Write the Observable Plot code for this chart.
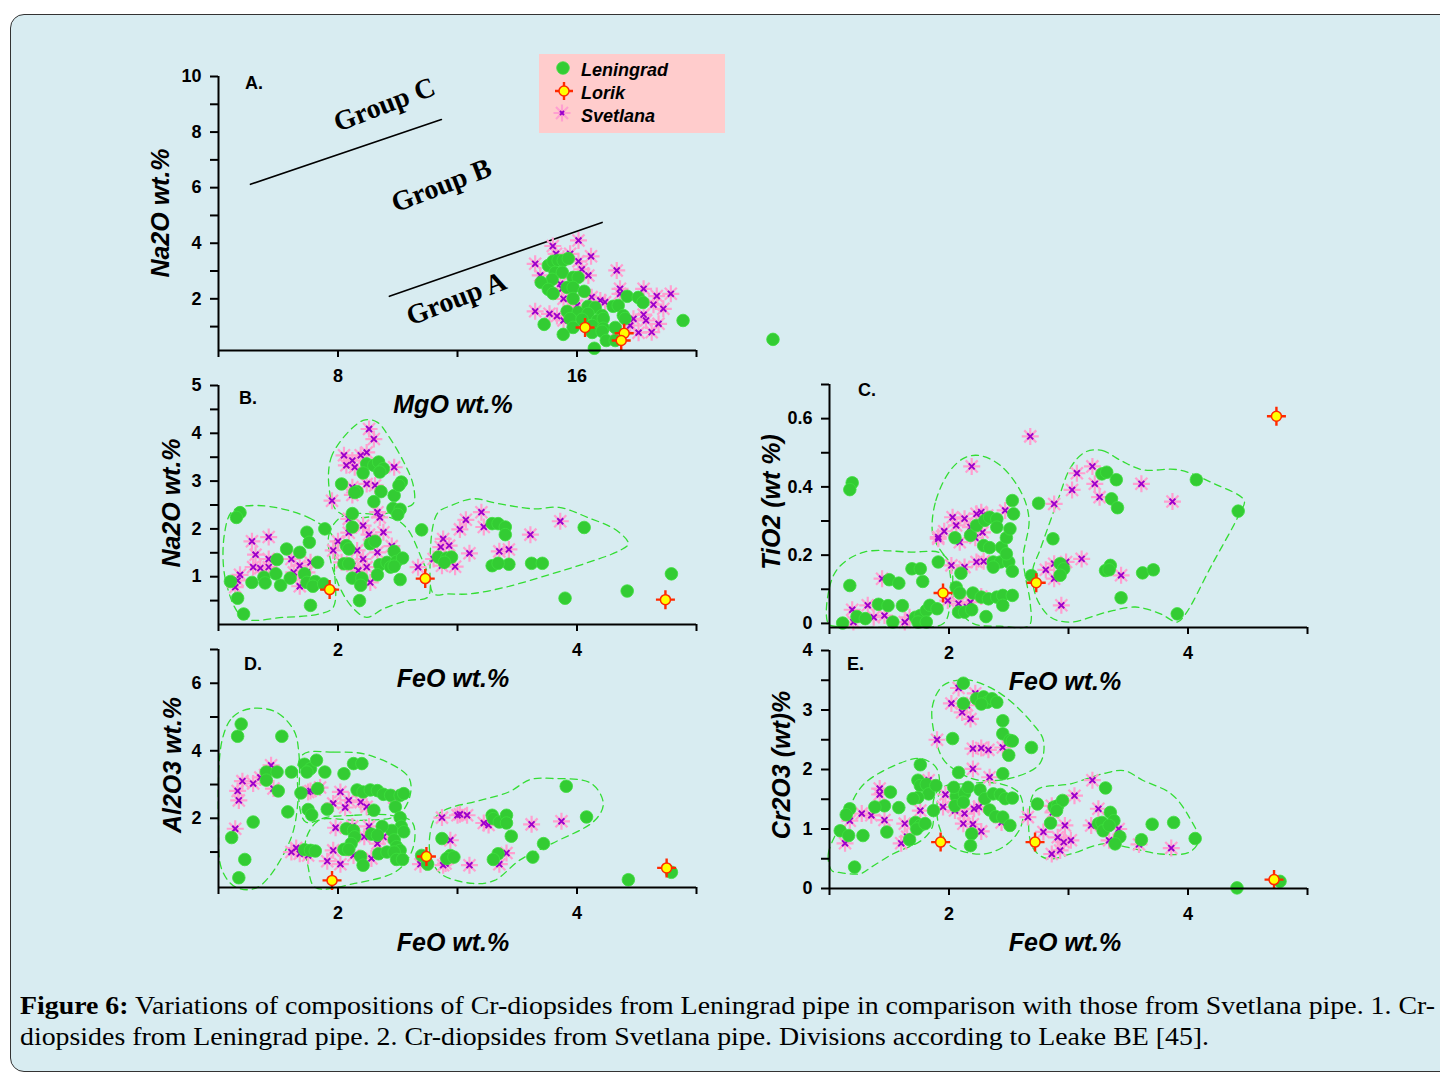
<!DOCTYPE html>
<html><head><meta charset="utf-8">
<script src="https://cdn.jsdelivr.net/npm/d3@7"></script>
<script src="https://cdn.jsdelivr.net/npm/@observablehq/plot@0.6"></script>
<style>
body{margin:0;background:#fff;width:1440px;height:1074px;overflow:hidden;position:relative;font-family:"Liberation Sans",Arial,sans-serif;}
#box{position:absolute;left:10px;top:14px;width:1460px;height:1056px;background:#d8ecf1;border:1.5px solid #333;border-radius:14px;}
.pl{position:absolute;}
.pl svg{display:block;}
.lab{position:absolute;font-weight:bold;font-style:italic;font-size:25px;white-space:nowrap;transform:translate(-50%,-50%);line-height:1;}
.rot{transform:translate(-50%,-50%) rotate(-90deg);}
.let{position:absolute;font-weight:bold;font-size:18px;line-height:1;}
#legend{position:absolute;left:539px;top:54px;width:186px;height:79px;background:#ffcccc;}
.li{position:absolute;left:42px;font-weight:bold;font-style:italic;font-size:18px;line-height:1;}
#legend svg{position:absolute;left:0;top:0;}
#cap{position:absolute;left:20px;top:990px;font-family:"Liberation Serif",serif;font-size:26px;line-height:31px;white-space:nowrap;transform-origin:0 0;}
</style></head>
<body>
<div id="box"></div>
<div id="root"></div>
<script>
// ---------------- DATA ----------------
// Panel A: MgO (x) vs Na2O (y)
const leningradA = [[15.04,3.20],[15.20,3.35],[15.37,3.38],[15.54,3.38],[15.71,3.45],[15.27,2.95],[15.51,2.95],[15.87,2.77],[16.04,2.77],[15.17,2.70],[14.80,2.59],[15.04,2.34],[15.20,2.19],[15.67,2.41],[15.87,2.41],[16.24,2.27],[15.87,2.01],[17.68,2.09],[18.05,2.05],[18.21,1.87],[16.37,1.73],[16.61,1.69],[17.21,1.73],[17.38,1.76],[15.67,1.55],[16.04,1.51],[16.37,1.47],[16.84,1.40],[17.55,1.40],[17.61,1.29],[15.77,1.29],[16.17,1.26],[16.68,1.22],[16.88,1.29],[14.90,1.08],[15.87,0.97],[16.51,1.04],[16.88,0.94],[17.28,0.97],[15.54,0.72],[16.51,0.79],[16.84,0.83],[16.98,0.50],[17.28,0.50],[16.58,0.22],[19.55,1.22],[22.56,0.54]];
const lorikA = [[16.27,0.97],[17.58,0.76],[17.48,0.50]];
const svetlanaA = [[14.60,3.26],[15.19,3.90],[16.05,4.10],[16.47,3.53],[16.05,3.35],[16.16,3.06],[16.38,2.84],[17.33,3.02],[14.77,2.84],[14.60,1.55],[15.08,1.46],[15.55,1.22],[15.33,1.38],[15.50,2.36],[16.49,2.06],[16.78,1.94],[17.44,2.18],[18.23,2.36],[18.67,2.10],[19.14,2.18],[18.56,1.79],[18.89,1.64],[18.23,1.43],[18.31,1.22],[18.73,1.10],[18.50,0.80],[18.06,0.78],[17.78,1.04],[17.89,1.28],[16.00,1.76],[15.88,1.94],[16.94,1.88],[15.55,2.00],[17.44,2.36],[15.77,3.62],[15.30,3.62],[15.55,3.44],[15.44,2.54],[17.33,0.86],[16.78,1.16]];
const groupLineC = [[5.07,6.12],[11.46,8.45]];
const groupLineA = [[9.72,2.09],[16.84,4.75]];
const groupLabels = [{x:9.55,y:8.99,t:"Group C"},{x:11.46,y:6.08,t:"Group B"},{x:11.96,y:2.01,t:"Group A"}];

// Panel B: FeO vs Na2O
const leningradB = [[1.18,2.34],[1.15,2.24],[1.10,0.90],[1.16,0.55],[1.21,0.22],[1.28,0.88],[1.38,0.99],[1.39,0.87],[1.48,1.06],[1.49,1.36],[1.52,0.82],[1.57,1.58],[1.68,1.51],[1.60,0.97],[1.74,1.93],[1.76,1.72],[1.72,1.06],[1.74,0.88],[1.81,0.90],[1.79,0.80],[1.83,1.30],[1.77,0.40],[1.89,2.00],[1.88,0.85],[2.03,2.94],[2.16,2.78],[2.14,2.76],[2.24,3.36],[2.30,3.33],[2.34,3.40],[2.38,3.26],[2.35,3.19],[2.21,3.17],[2.36,2.78],[2.47,2.70],[2.30,2.57],[2.53,2.98],[2.51,2.91],[2.46,2.43],[2.52,2.41],[2.50,2.30],[2.12,2.32],[2.12,2.04],[2.07,1.65],[2.09,1.58],[2.27,1.69],[2.31,1.74],[2.47,1.53],[2.05,1.27],[2.09,1.27],[2.12,0.97],[2.20,0.97],[2.19,0.82],[2.18,0.50],[2.35,1.25],[2.41,1.30],[2.44,1.20],[2.49,1.32],[2.54,1.39],[2.47,1.22],[2.33,1.04],[2.52,0.94],[2.70,1.98],[2.84,1.41],[2.91,1.39],[2.95,1.41],[2.89,1.30],[3.29,2.11],[3.34,2.11],[3.40,2.04],[3.40,1.88],[3.43,1.26],[3.29,1.23],[3.34,1.28],[3.62,1.28],[3.71,1.28],[4.06,2.03],[3.90,0.55],[4.42,0.70],[4.79,1.06]];
const lorikB = [[1.93,0.73],[2.73,0.96],[4.74,0.52]];
const svetlanaB = [[2.26,4.09],[2.30,3.88],[2.05,3.54],[2.12,3.43],[2.19,3.54],[2.24,3.60],[2.14,3.29],[2.07,3.33],[2.47,3.29],[2.24,2.94],[2.31,2.91],[2.12,2.87],[2.12,2.71],[1.95,2.59],[2.33,2.35],[2.35,2.24],[2.09,2.21],[2.21,2.07],[2.26,1.88],[2.38,1.93],[2.09,1.92],[2.00,1.74],[1.96,1.55],[2.16,1.55],[2.33,1.51],[2.45,1.64],[2.03,1.30],[2.12,1.23],[2.21,1.37],[2.24,1.20],[2.17,1.13],[2.27,0.88],[2.67,1.20],[1.28,1.74],[1.42,1.83],[1.31,1.46],[1.35,1.18],[1.29,1.20],[1.18,1.04],[1.16,0.92],[1.14,0.78],[1.42,1.37],[1.42,1.20],[1.61,1.37],[1.68,1.23],[1.63,1.09],[1.77,1.30],[1.70,1.03],[1.68,0.80],[1.74,1.09],[2.88,1.79],[2.86,1.62],[2.93,1.65],[2.87,1.23],[2.98,1.21],[2.80,1.37],[3.02,1.99],[3.07,2.19],[3.20,2.35],[3.22,2.04],[3.10,1.49],[3.35,1.53],[3.43,1.57],[3.61,1.88],[3.86,2.16]];
const contB1 = [[1.33,2.49],[1.75,2.24],[1.96,1.83],[1.97,1.20],[1.96,0.36],[1.84,0.22],[1.54,0.15],[1.21,0.14],[1.06,0.92],[1.05,1.90],[1.12,2.38]];
const contB2 = [[2.21,4.27],[1.95,3.54],[1.93,2.77],[1.99,2.38],[2.13,2.24],[2.33,2.28],[2.52,2.42],[2.63,2.53],[2.63,2.91],[2.55,3.40],[2.41,3.99],[2.33,4.23]];
const contB3 = [[2.05,2.28],[1.93,1.93],[1.93,1.44],[2.02,0.75],[2.13,0.33],[2.24,0.15],[2.38,0.33],[2.58,0.50],[2.75,0.57],[2.77,0.88],[2.69,1.44],[2.58,2.00],[2.47,2.21]];
const contB4 = [[2.80,0.64],[2.77,1.20],[2.83,2.32],[2.95,2.49],[3.13,2.63],[3.34,2.53],[3.64,2.42],[3.85,2.45],[4.09,2.24],[4.33,1.97],[4.43,1.69],[4.36,1.55],[4.06,1.27],[3.79,1.06],[3.40,0.78],[3.10,0.64],[2.92,0.64]];

// Panel C: FeO vs TiO2
const leningradC = [[1.19,0.412],[1.17,0.392],[1.17,0.111],[1.11,0.001],[1.23,0.020],[1.30,0.014],[1.41,0.056],[1.49,0.052],[1.61,0.052],[1.50,0.128],[1.58,0.118],[1.69,0.160],[1.76,0.160],[1.78,0.123],[1.53,0.004],[1.91,0.180],[1.72,0.018],[1.76,0.023],[1.81,0.038],[1.84,0.053],[1.90,0.043],[1.74,0.004],[1.81,0.004],[2.06,0.106],[2.09,0.089],[2.20,0.089],[2.27,0.077],[2.33,0.072],[2.40,0.077],[2.45,0.082],[2.53,0.082],[2.08,0.033],[2.13,0.033],[2.19,0.040],[2.31,0.020],[2.45,0.053],[2.10,0.147],[2.37,0.180],[2.43,0.180],[2.50,0.180],[2.53,0.153],[2.37,0.165],[2.05,0.251],[2.18,0.258],[2.23,0.287],[2.30,0.302],[2.34,0.311],[2.40,0.306],[2.29,0.228],[2.34,0.222],[2.44,0.223],[2.48,0.251],[2.51,0.277],[2.53,0.360],[2.54,0.321],[2.40,0.282],[2.48,0.204],[2.75,0.352],[2.87,0.248],[2.93,0.175],[2.96,0.160],[2.93,0.141],[2.69,0.140],[3.28,0.438],[3.32,0.443],[3.40,0.421],[3.36,0.365],[3.41,0.339],[3.31,0.155],[3.35,0.170],[3.34,0.157],[3.44,0.075],[3.62,0.148],[3.71,0.157],[4.07,0.421],[3.91,0.028],[4.42,0.329]];
const lorikC = [[1.95,0.089],[2.73,0.119],[4.74,0.607]];
const svetlanaC = [[2.19,0.460],[2.47,0.331],[2.03,0.311],[2.13,0.307],[2.23,0.321],[2.27,0.326],[2.32,0.316],[2.06,0.287],[2.18,0.282],[1.96,0.270],[1.91,0.248],[2.09,0.238],[2.22,0.251],[2.02,0.170],[2.13,0.165],[2.23,0.180],[2.29,0.182],[1.44,0.131],[1.19,0.040],[1.32,0.053],[1.46,0.023],[1.37,0.018],[1.20,0.004],[1.63,0.004],[1.67,0.018],[1.99,0.067],[2.08,0.058],[2.18,0.062],[2.27,0.079],[2.15,0.048],[2.88,0.350],[2.94,0.053],[3.03,0.391],[3.07,0.440],[3.20,0.460],[3.22,0.409],[3.26,0.370],[3.61,0.409],[3.87,0.357],[2.81,0.157],[2.88,0.175],[2.98,0.180],[3.11,0.189],[2.88,0.131],[3.44,0.141],[2.68,0.548],[2.28,0.267],[1.91,0.253]];
const contC1 = [[0.99,0.0],[1.00,0.106],[1.08,0.165],[1.29,0.209],[1.68,0.209],[1.93,0.206],[2.02,0.165],[2.01,0.058],[1.95,-0.001],[1.53,-0.010],[1.08,-0.010]];
const contC2 = [[1.86,0.272],[1.89,0.36],[2.01,0.448],[2.13,0.485],[2.25,0.492],[2.43,0.463],[2.61,0.38],[2.67,0.302],[2.62,0.194],[2.64,0.136],[2.68,0.058],[2.67,-0.006],[2.43,-0.008],[2.2,0.0],[2.05,0.06],[1.99,0.18],[1.9,0.23]];
const contC3 = [[3.14,0.502],[3.28,0.507],[3.44,0.477],[3.62,0.45],[3.92,0.45],[4.22,0.409],[4.47,0.36],[4.43,0.321],[4.19,0.165],[3.98,0.028],[3.91,0.004],[3.77,0.028],[3.56,0.048],[3.32,0.033],[3.02,0.004],[2.85,0.018],[2.73,0.077],[2.70,0.155],[2.76,0.214],[2.91,0.36],[3.02,0.458]];

// Panel D: FeO vs Al2O3
const leningradD = [[1.19,4.79],[1.16,4.43],[1.53,4.43],[1.40,3.37],[1.49,3.37],[1.40,3.13],[1.61,3.37],[1.50,2.81],[1.58,2.19],[1.29,1.89],[1.11,1.43],[1.22,0.78],[1.17,0.24],[1.72,3.60],[1.77,3.47],[1.82,3.72],[1.74,3.37],[1.89,3.37],[2.05,3.32],[2.13,3.62],[2.20,3.62],[1.69,2.75],[1.83,2.88],[1.75,2.26],[1.78,2.10],[1.91,2.27],[2.16,2.84],[2.21,2.78],[2.27,2.84],[2.33,2.82],[2.38,2.71],[2.44,2.68],[2.52,2.68],[2.55,2.73],[2.30,2.24],[2.48,2.34],[2.52,2.02],[2.53,1.76],[2.45,1.64],[2.37,1.76],[2.55,1.60],[2.07,1.69],[2.13,1.64],[2.14,1.45],[2.11,1.25],[2.05,1.08],[2.09,1.08],[2.28,1.53],[2.33,1.50],[2.47,1.36],[2.49,1.16],[2.52,1.05],[2.34,0.95],[2.41,1.00],[2.47,1.00],[2.49,0.78],[2.54,0.78],[2.19,0.87],[2.21,0.61],[1.72,1.07],[1.77,1.05],[1.81,1.03],[2.70,0.90],[2.75,0.64],[2.87,1.40],[2.94,0.90],[2.91,0.81],[2.97,0.85],[3.29,2.09],[3.30,1.99],[3.35,1.89],[3.41,2.09],[3.41,1.86],[3.45,1.47],[3.34,0.95],[3.30,0.78],[3.63,0.85],[3.72,1.25],[3.91,2.95],[4.08,2.04],[4.43,0.18],[4.79,0.40]];
const lorikD = [[1.95,0.16],[2.74,0.87],[4.75,0.53]];
const svetlanaD = [[1.20,3.10],[1.16,2.81],[1.17,2.53],[1.35,3.21],[1.44,3.57],[1.46,2.88],[1.29,3.03],[1.39,3.28],[1.14,1.69],[1.75,2.78],[1.85,2.91],[1.77,2.81],[2.02,2.78],[1.96,2.44],[2.06,2.32],[2.09,2.53],[2.19,2.48],[2.24,2.34],[2.47,2.61],[1.98,1.72],[2.12,1.76],[2.26,1.76],[2.22,1.45],[2.38,1.45],[2.33,1.25],[1.61,1.00],[1.68,0.95],[1.75,0.90],[1.65,1.12],[1.91,0.73],[2.02,0.64],[2.13,0.90],[2.28,0.81],[1.96,1.05],[2.69,0.64],[2.90,0.66],[2.87,2.02],[3.00,2.09],[2.94,1.35],[3.08,2.09],[3.26,1.80],[3.41,0.97],[3.62,1.82],[3.87,1.91],[3.10,0.61],[3.02,2.12],[2.88,0.61],[3.22,1.86],[3.35,0.64]];
const contD1 = [[1.03,4.31],[1.12,5.00],[1.27,5.25],[1.48,5.15],[1.63,4.61],[1.67,4.02],[1.67,2.73],[1.60,1.35],[1.33,-0.04],[1.15,-0.05],[1.03,0.46],[1.00,1.84]];
const contD2 = [[1.70,3.87],[1.96,3.96],[2.26,3.87],[2.59,3.22],[2.60,2.63],[2.50,2.09],[2.20,1.94],[1.90,1.99],[1.73,1.89],[1.67,2.63]];
const contD3 = [[1.84,1.94],[2.14,2.09],[2.44,2.09],[2.62,1.89],[2.63,1.15],[2.50,0.46],[2.14,0.07],[1.81,-0.05],[1.75,0.56],[1.73,1.35]];
const contD4 = [[2.80,1.94],[2.89,2.24],[3.19,2.53],[3.43,2.78],[3.61,3.15],[3.79,3.18],[4.12,3.03],[4.22,2.44],[4.15,1.94],[3.79,1.25],[3.52,0.76],[3.31,0.16],[3.13,0.07],[2.86,0.36],[2.77,0.95]];

// Panel E: FeO vs Cr2O3
const leningradE = [[2.12,3.45],[2.12,3.11],[2.23,3.19],[2.29,3.22],[2.32,3.13],[2.36,3.19],[2.40,3.13],[2.27,3.10],[2.45,2.82],[2.45,2.60],[2.51,2.49],[2.53,2.48],[2.50,2.24],[2.69,2.37],[2.45,1.93],[2.03,2.52],[2.08,1.95],[1.76,2.08],[1.74,1.82],[1.76,1.73],[1.81,1.75],[1.83,1.59],[1.74,1.53],[1.70,1.51],[1.89,1.73],[1.51,1.62],[1.58,1.36],[1.46,1.39],[1.38,1.37],[1.17,1.34],[1.14,1.24],[1.09,0.97],[1.16,0.89],[1.28,0.89],[1.48,0.95],[1.21,0.36],[1.72,1.11],[1.76,1.06],[1.73,1.00],[1.80,1.09],[1.67,0.82],[1.87,1.31],[2.06,1.55],[2.13,1.60],[2.16,1.70],[2.26,1.66],[2.30,1.51],[2.37,1.59],[2.43,1.58],[2.47,1.51],[2.53,1.52],[2.05,1.39],[2.12,1.45],[2.34,1.32],[2.39,1.21],[2.45,1.20],[2.51,1.06],[2.19,0.92],[2.18,0.72],[2.04,1.70],[2.74,1.42],[2.85,1.10],[2.88,1.37],[2.91,1.39],[2.95,1.48],[2.90,1.31],[3.31,1.69],[3.25,1.09],[3.28,1.11],[3.29,0.97],[3.35,1.28],[3.38,1.14],[3.34,1.06],[3.43,0.87],[3.39,0.75],[3.61,0.82],[3.70,1.08],[3.88,1.11],[4.06,0.84],[4.41,0.01],[4.77,0.12]];
const lorikE = [[1.93,0.78],[2.72,0.78],[4.72,0.15]];
const svetlanaE = [[2.08,3.37],[2.02,3.11],[2.22,3.28],[2.11,2.96],[2.18,2.85],[2.15,3.08],[1.90,2.50],[2.20,2.35],[2.27,2.36],[2.33,2.33],[2.45,2.37],[2.20,2.01],[2.34,1.87],[1.42,1.68],[1.42,1.58],[1.46,1.15],[1.27,1.26],[1.35,1.23],[1.17,1.14],[1.13,0.76],[1.63,1.09],[1.60,0.76],[1.65,0.87],[1.76,1.31],[1.83,1.82],[1.97,1.58],[1.95,1.37],[2.05,1.31],[2.13,1.26],[2.21,1.34],[2.25,1.37],[2.12,1.09],[2.20,1.08],[2.27,0.96],[2.44,1.11],[2.66,1.20],[2.79,0.95],[2.86,1.39],[2.87,1.28],[2.96,0.78],[2.93,0.64],[2.86,0.58],[3.20,1.82],[3.25,1.34],[3.05,1.56],[3.19,1.06],[3.34,0.81],[3.42,1.00],[3.59,0.74],[3.86,0.68],[2.97,1.06],[3.02,0.81],[2.91,0.86]];
const contE1 = [[1.02,0.30],[0.99,0.58],[1.13,1.20],[1.29,1.76],[1.65,2.15],[1.77,2.18],[1.89,2.04],[1.92,1.76],[1.87,1.48],[1.86,1.03],[1.77,0.81],[1.53,0.58],[1.35,0.36],[1.26,0.25],[1.08,0.27]];
const contE2 = [[1.89,2.49],[1.86,3.05],[1.95,3.41],[2.13,3.51],[2.31,3.41],[2.49,3.19],[2.70,2.77],[2.79,2.49],[2.76,2.10],[2.55,1.87],[2.25,1.82],[2.10,1.93],[1.96,2.15]];
const contE3 = [[1.95,1.70],[2.13,1.76],[2.43,1.76],[2.59,1.59],[2.61,1.09],[2.49,0.75],[2.28,0.58],[2.01,0.72],[1.92,1.03],[1.90,1.42]];
const contE4 = [[2.70,0.69],[2.67,1.26],[2.73,1.65],[3.02,1.76],[3.29,1.93],[3.47,1.98],[3.62,1.82],[3.86,1.59],[4.01,1.20],[4.09,0.81],[4.01,0.61],[3.77,0.58],[3.50,0.69],[3.29,0.75],[3.02,0.58],[2.82,0.50]];

// Ticks and tick labels
const ticksA_x = [4,8,12,16,20], labelsA_x = [8,16];
const ticksA_y = [1,2,3,4,5,6,7,8,9,10], labelsA_y = [2,4,6,8,10];
const ticksFeO = [1,2,3,4,5], labelsFeO = [2,4];
const ticksB_y = [0.5,1,1.5,2,2.5,3,3.5,4,4.5,5], labelsB_y = [1,2,3,4,5];
const ticksC_y = [0,0.1,0.2,0.3,0.4,0.5,0.6,0.7], labelsC_y = [0,0.2,0.4,0.6];
const ticksD_y = [1,2,3,4,5,6,7], labelsD_y = [2,4,6];
const ticksE_y = [0,0.5,1,1.5,2,2.5,3,3.5,4], labelsE_y = [0,1,2,3,4];

// ---------------- DRAWING ----------------
const asterisk = {draw(ctx, size){const r=Math.sqrt(size/Math.PI);for(let i=0;i<4;i++){const a=i*Math.PI/4,dx=r*Math.cos(a),dy=r*Math.sin(a);ctx.moveTo(-dx,-dy);ctx.lineTo(dx,dy);}}};
const cross = {draw(ctx, size){const r=Math.sqrt(size/Math.PI);ctx.moveTo(-r,0);ctx.lineTo(r,0);ctx.moveTo(0,-r);ctx.lineTo(0,r);}};
const X = d=>d[0], Y = d=>d[1];
const FONT = "'Liberation Sans', Arial, sans-serif";

function pointMarks(len, lor, sv){
  return [
    Plot.dot(sv, {x:X, y:Y, symbol: asterisk, r:8.5, stroke:"#ff9fd0", strokeWidth:2.2}),
    Plot.dot(sv, {x:X, y:Y, symbol: "times", r:2.8, stroke:"#9b00cc", strokeWidth:1.9}),
    Plot.dot(len, {x:X, y:Y, r:6.3, fill:"#33cc33", stroke:"#3ee03e", strokeWidth:0.8}),
    Plot.dot(lor, {x:X, y:Y, symbol: cross, r:9.5, stroke:"#ff2a00", strokeWidth:2.4}),
    Plot.dot(lor, {x:X, y:Y, r:5, fill:"#ffff00", stroke:"#ff2a00", strokeWidth:1.5})
  ];
}
function axes(xd, yd, xt, xl, yt, yl){
  return [
    Plot.ruleX([xd[0]], {stroke:"black", strokeWidth:2}),
    Plot.ruleY([yd[0]], {stroke:"black", strokeWidth:2}),
    Plot.axisX({ticks: xt, tickFormat: () => "", tickSize:7, stroke:"black", strokeWidth:2, label:null}),
    Plot.axisY({ticks: yt, tickFormat: () => "", tickSize:8, stroke:"black", strokeWidth:2, label:null}),
    Plot.text(xl, {x: d=>d, frameAnchor:"bottom", dy:31, text: d=>String(d), fontSize:18, fontWeight:"bold", fontFamily:FONT, fill:"black"}),
    Plot.text(yl, {y: d=>d, frameAnchor:"left", dx:-17, textAnchor:"end", text: d=>String(d), fontSize:18, fontWeight:"bold", fontFamily:FONT, fill:"black"})
  ];
}
function contourRows(list){ return list.flatMap((c,i)=>c.map(([x,y])=>({x,y,id:i}))); }
function contourMark(list){
  return Plot.line(contourRows(list), {x:"x", y:"y", z:"id", curve:"catmull-rom-closed", stroke:"#33dd33", strokeWidth:1.3, strokeDasharray:"7,5"});
}
const baseStyle = {background:"transparent", overflow:"visible", maxWidth:"none", fontFamily:FONT, fontWeight:"bold", fontSize:"18px", color:"black"};

function place(svg, left, top){
  const d = document.createElement("div"); d.className="pl"; d.style.left=left+"px"; d.style.top=top+"px";
  d.appendChild(svg); document.getElementById("root").appendChild(d);
}

// Panel A
const xdA=[4,20], ydA=[0.14,10];
place(Plot.plot({
  width:680, height:340, marginLeft:78, marginRight:124, marginTop:26, marginBottom:40,
  x:{domain:xdA, axis:null}, y:{domain:ydA, axis:null}, style:baseStyle,
  marks:[
    Plot.line(groupLineC, {x:X, y:Y, stroke:"black", strokeWidth:1.6}),
    Plot.line(groupLineA, {x:X, y:Y, stroke:"black", strokeWidth:1.6}),
    Plot.text(groupLabels, {x:"x", y:"y", text:"t", rotate:-21, fontSize:28, fontFamily:"'Liberation Serif', serif", fontWeight:"bold", fill:"black"}),
    ...pointMarks(leningradA, lorikA, svetlanaA),
    ...axes(xdA, ydA, ticksA_x, labelsA_x, ticksA_y, labelsA_y)
  ]
}), 140, 50);

// Panel B
const xdF=[1,5], ydB=[0,5];
place(Plot.plot({
  width:600, height:300, marginLeft:78, marginRight:44, marginTop:25, marginBottom:36,
  x:{domain:xdF, axis:null}, y:{domain:ydB, axis:null}, style:baseStyle,
  marks:[contourMark([contB1,contB2,contB3,contB4]), ...pointMarks(leningradB, lorikB, svetlanaB), ...axes(xdF, ydB, ticksFeO, labelsFeO, ticksB_y, labelsB_y)]
}), 140, 360);

// Panel C
const ydC=[-0.012,0.7];
place(Plot.plot({
  width:620, height:300, marginLeft:79, marginRight:63, marginTop:24, marginBottom:33,
  x:{domain:xdF, axis:null}, y:{domain:ydC, axis:null}, style:baseStyle,
  marks:[contourMark([contC1,contC2,contC3]), ...pointMarks(leningradC, lorikC, svetlanaC), ...axes(xdF, ydC, ticksFeO, labelsFeO, ticksC_y, labelsC_y)]
}), 750, 360);

// Panel D
const ydD=[-0.05,7];
place(Plot.plot({
  width:600, height:300, marginLeft:78, marginRight:44, marginTop:19, marginBottom:43,
  x:{domain:xdF, axis:null}, y:{domain:ydD, axis:null}, style:baseStyle,
  marks:[contourMark([contD1,contD2,contD3,contD4]), ...pointMarks(leningradD, lorikD, svetlanaD), ...axes(xdF, ydD, ticksFeO, labelsFeO, ticksD_y, labelsD_y)]
}), 140, 630);

// Panel E
const ydE=[0,4];
place(Plot.plot({
  width:620, height:300, marginLeft:79, marginRight:63, marginTop:20, marginBottom:42,
  x:{domain:xdF, axis:null}, y:{domain:ydE, axis:null}, style:baseStyle,
  marks:[contourMark([contE1,contE2,contE3,contE4]), ...pointMarks(leningradE, lorikE, svetlanaE), ...axes(xdF, ydE, ticksFeO, labelsFeO, ticksE_y, labelsE_y)]
}), 750, 630);

// ---------------- TEXT ----------------
const axisTitles = [
  {t:"MgO wt.%", x:453, y:404, r:false},
  {t:"FeO wt.%", x:453, y:678, r:false},
  {t:"FeO wt.%", x:453, y:942, r:false},
  {t:"FeO wt.%", x:1065, y:681, r:false},
  {t:"FeO wt.%", x:1065, y:942, r:false},
  {t:"Na2O wt.%", x:160, y:213, r:true},
  {t:"Na2O wt.%", x:171, y:503, r:true},
  {t:"Al2O3 wt.%", x:172, y:765, r:true},
  {t:"TiO2 (wt %)", x:771, y:502, r:true},
  {t:"Cr2O3 (wt)%", x:781, y:765, r:true}
];
const panelLetters = [{t:"A.",x:245,y:74},{t:"B.",x:239,y:389},{t:"C.",x:858,y:381},{t:"D.",x:244,y:655},{t:"E.",x:847,y:655}];
const root = document.getElementById("root");
axisTitles.forEach(a=>{const d=document.createElement("div");d.className="lab"+(a.r?" rot":"");d.textContent=a.t;d.style.left=a.x+"px";d.style.top=a.y+"px";root.appendChild(d);});
panelLetters.forEach(a=>{const d=document.createElement("div");d.className="let";d.textContent=a.t;d.style.left=a.x+"px";d.style.top=a.y+"px";root.appendChild(d);});

// Legend
const legendItems = ["Leningrad","Lorik","Svetlana"];
const lg = document.createElement("div"); lg.id="legend";
lg.innerHTML = `<svg width="186" height="79">
<circle cx="24" cy="14" r="6.3" fill="#33cc33" stroke="#3ee03e" stroke-width="0.8"/>
<path d="M16,37H34M25,28V46" stroke="#ff2a00" stroke-width="2.4"/>
<circle cx="25" cy="37" r="5" fill="#ffff00" stroke="#ff2a00" stroke-width="1.5"/>
<path d="M14.5,59H31.5M23,50.5V67.5M17,53L29,65M17,65L29,53" stroke="#ff9fd0" stroke-width="2.2"/>
<path d="M21,57L25,61M21,61L25,57" stroke="#9b00cc" stroke-width="1.9"/>
</svg>` + legendItems.map((t,i)=>`<div class="li" style="top:${7+i*23}px">${t}</div>`).join("");
root.appendChild(lg);

// Caption
const cap = document.createElement("div"); cap.id="cap";
cap.innerHTML = `<b>Figure 6:</b> Variations of compositions of Cr-diopsides from Leningrad pipe in comparison with those from Svetlana pipe. 1. Cr-<br>diopsides from Leningrad pipe. 2. Cr-diopsides from Svetlana pipe. Divisions according to Leake BE [45].`;
root.appendChild(cap);
const w = cap.getBoundingClientRect().width;
cap.style.transform = `scaleX(${1415/w})`;
</script>
</body></html>
